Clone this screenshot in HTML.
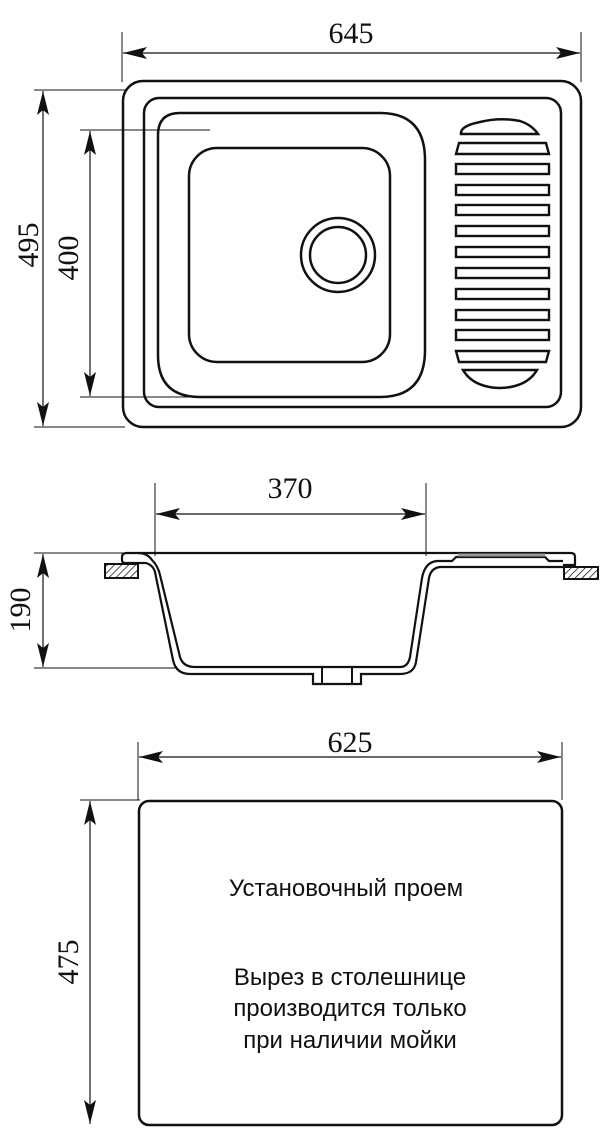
<!DOCTYPE html>
<html><head><meta charset="utf-8"><style>
html,body{margin:0;padding:0;background:#fff;}
svg{display:block;}
.t{font-family:"Liberation Serif",serif;font-size:30px;fill:#111;}
.s{font-family:"Liberation Sans",sans-serif;font-size:24px;fill:#111;}
</style></head><body>
<svg width="602" height="1144" viewBox="0 0 602 1144" xmlns="http://www.w3.org/2000/svg">
<defs>
<marker id="a" viewBox="0 0 24 12" refX="24" refY="6" markerWidth="24" markerHeight="12" markerUnits="userSpaceOnUse" orient="auto-start-reverse"><path d="M0,0 L24,6 L0,12 L5,6 Z" fill="#111"/></marker>
<pattern id="h" width="5" height="5" patternUnits="userSpaceOnUse" patternTransform="rotate(45)"><line x1="0" y1="0" x2="0" y2="5" stroke="#111" stroke-width="1.5"/></pattern>
</defs>
<g stroke="#111" fill="none">
<line x1="122" y1="32" x2="122" y2="82" stroke-width="1"/>
<line x1="581" y1="32" x2="581" y2="82" stroke-width="1"/>
<line x1="123" y1="53" x2="580" y2="53" stroke-width="1.2" marker-start="url(#a)" marker-end="url(#a)"/>
<line x1="34" y1="90" x2="125" y2="90" stroke-width="1"/>
<line x1="34" y1="427" x2="125" y2="427" stroke-width="1"/>
<line x1="43" y1="91" x2="43" y2="426" stroke-width="1.2" marker-start="url(#a)" marker-end="url(#a)"/>
<line x1="80" y1="130" x2="210" y2="130" stroke-width="1"/>
<line x1="80" y1="397" x2="210" y2="397" stroke-width="1"/>
<line x1="90" y1="131" x2="90" y2="396" stroke-width="1.2" marker-start="url(#a)" marker-end="url(#a)"/>
<rect x="123" y="81" width="458" height="346" rx="20" stroke-width="2.5"/>
<rect x="144" y="98" width="417" height="309" rx="15" stroke-width="2.5"/>
<path d="M158,135 Q158,113 180,113 L380,113 Q425,113 425,160 L425,350 Q425,397 380,397 L200,397 Q158,397 158,355 Z" stroke-width="2.5"/>
<rect x="189" y="148" width="201" height="214" rx="28" stroke-width="2.5"/>
<circle cx="338" cy="255" r="37" stroke-width="2.5"/>
<circle cx="338" cy="255" r="28" stroke-width="2.5"/>
<path d="M461,134 Q460,126 480,122 Q500,117 520,121 Q532,125 538,134 Z" stroke-width="2.5"/>
<path d="M463,370 L537,370 Q530,382 515,386 Q500,390 485,386 Q470,382 463,370 Z" stroke-width="2.5"/>
<g stroke-width="2.4">
<path d="M459,143 L546,143 L549,154 L456,154 Z"/>
<rect x="456" y="164" width="93" height="10"/>
<rect x="456" y="185" width="93" height="10"/>
<rect x="456" y="205" width="93" height="10"/>
<rect x="456" y="226" width="93" height="10"/>
<rect x="456" y="247" width="93" height="10"/>
<rect x="456" y="268" width="93" height="10"/>
<rect x="456" y="289" width="93" height="10"/>
<rect x="456" y="310" width="93" height="10"/>
<rect x="456" y="330" width="93" height="10"/>
<path d="M456,351 L549,351 L546,362 L459,362 Z"/>
</g>
<line x1="155" y1="483" x2="155" y2="556" stroke-width="1"/>
<line x1="426" y1="483" x2="426" y2="556" stroke-width="1"/>
<line x1="156" y1="514" x2="425" y2="514" stroke-width="1.2" marker-start="url(#a)" marker-end="url(#a)"/>
<line x1="34" y1="553" x2="125" y2="553" stroke-width="1"/>
<line x1="34" y1="668" x2="178" y2="668" stroke-width="1"/>
<line x1="43" y1="554" x2="43" y2="667" stroke-width="1.2" marker-start="url(#a)" marker-end="url(#a)"/>
<path d="M137,563 L125,563 Q122,563 122,560 L122,557 Q122,553 127,553 L571,553 Q575,553 575,557 L575,565 L563,565" stroke-width="2.2"/>
<path d="M138,553 Q147,553 152,560 Q158,566 160,575 L180,657 Q183,667 195,667 L400,667 Q408,667 410,657 L422,578 Q425,562 437,561 L452,561 L456,557 L545,557 L549,561 L563,561" stroke-width="2.2"/>
<path d="M137,563 L146,563 Q153,565 155,572 L173,660 Q176,674 190,674 L313,674 L313,684 L361,684 L361,674 L400,674 Q414,674 416,662 L429,578 Q431,568 440,567 L563,567" stroke-width="2.2"/>
<path d="M322,667 L322,684 M352,667 L352,684" stroke-width="2"/>
<line x1="458" y1="555" x2="545" y2="555" stroke="#999" stroke-width="3"/>
<rect x="105" y="564" width="33" height="14" fill="url(#h)" stroke-width="2"/>
<rect x="564" y="567" width="34" height="12" fill="url(#h)" stroke-width="2"/>
<line x1="138" y1="742" x2="138" y2="800" stroke-width="1"/>
<line x1="562" y1="742" x2="562" y2="800" stroke-width="1"/>
<line x1="139" y1="757" x2="561" y2="757" stroke-width="1.2" marker-start="url(#a)" marker-end="url(#a)"/>
<line x1="80" y1="800" x2="140" y2="800" stroke-width="1"/>
<line x1="90" y1="801" x2="90" y2="1124" stroke-width="1.2" marker-start="url(#a)" marker-end="url(#a)"/>
<rect x="139" y="801" width="423" height="324" rx="10" stroke-width="2.5"/>
</g>
<text class="t" x="351" y="43" text-anchor="middle">645</text>
<text class="t" transform="translate(38,245) rotate(-90)" text-anchor="middle">495</text>
<text class="t" transform="translate(78,258) rotate(-90)" text-anchor="middle">400</text>
<text class="t" x="290" y="498" text-anchor="middle">370</text>
<text class="t" transform="translate(30,610) rotate(-90)" text-anchor="middle">190</text>
<text class="t" x="350" y="752" text-anchor="middle">625</text>
<text class="t" transform="translate(78,962) rotate(-90)" text-anchor="middle">475</text>
<text class="s" x="346" y="896" text-anchor="middle">Установочный проем</text>
<text class="s" x="350" y="985" text-anchor="middle">Вырез в столешнице</text>
<text class="s" x="350" y="1016" text-anchor="middle">производится только</text>
<text class="s" x="350" y="1048" text-anchor="middle">при наличии мойки</text>
</svg>
</body></html>
